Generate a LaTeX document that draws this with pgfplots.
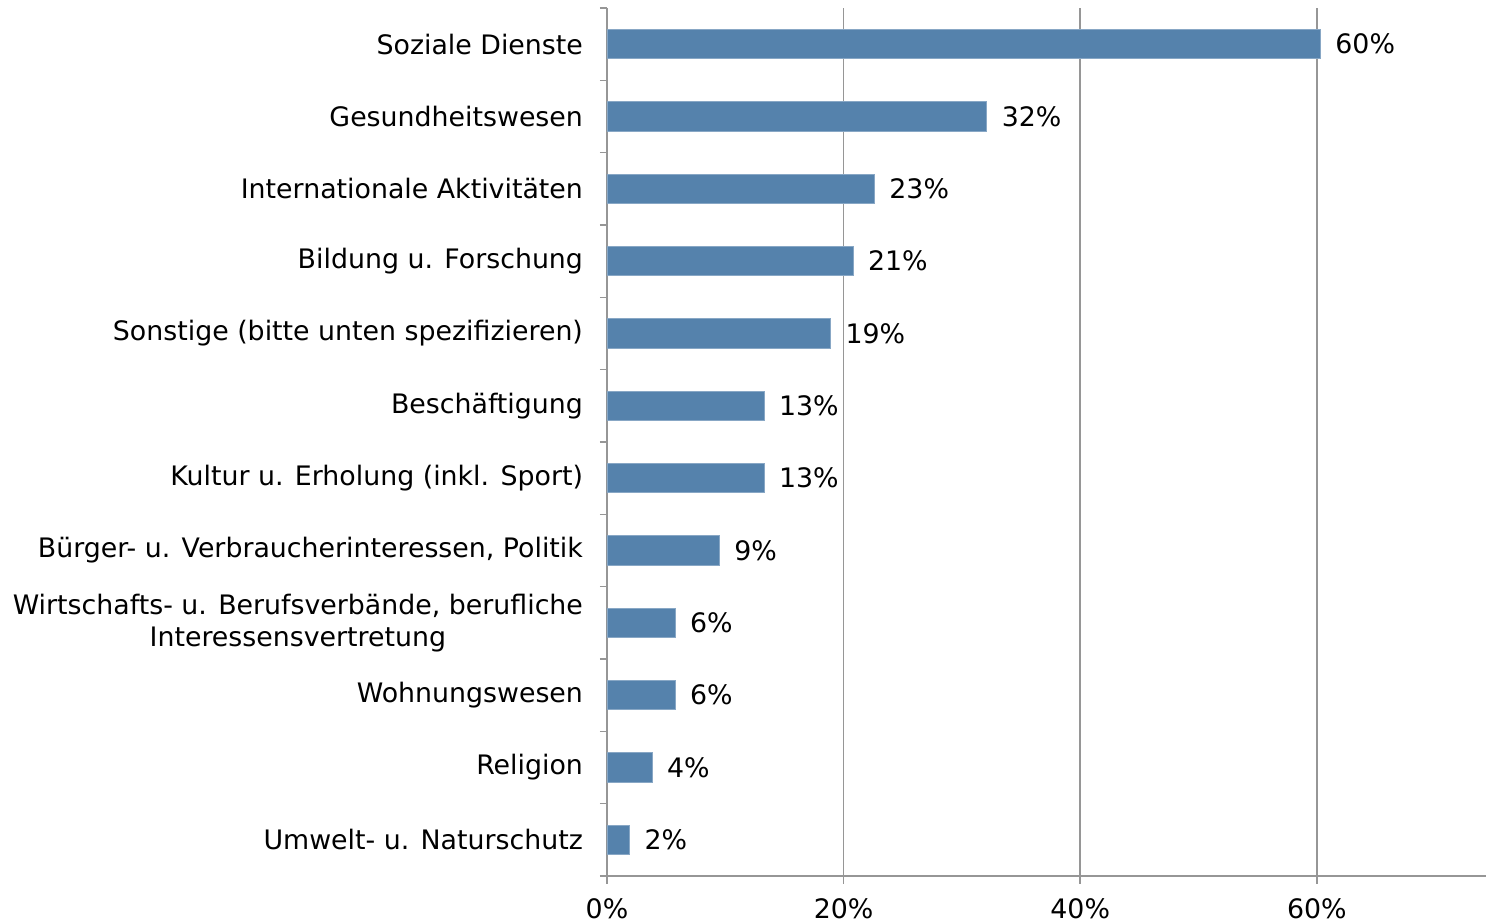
\documentclass[border=0pt]{standalone}
\usepackage{fontspec}
\setmainfont{DejaVu Sans}
\usepackage{pgfplots}
\usepackage{pgfplotstable}
\pgfplotsset{compat=1.18}
\definecolor{barblue}{HTML}{5582AC}
\definecolor{axgray}{HTML}{969696}
\pgfplotstableread{
y x lab
0 1.9 2
1 3.8 4
2 5.75 6
3 5.75 6
4 9.5 9
5 13.27 13
6 13.27 13
7 18.9 19
8 20.8 21
9 22.6 23
10 32.1 32
11 60.3 60
}\datatab
\begin{document}
\begin{tikzpicture}
\begin{axis}[
  name=ax,
  scale only axis,
  width=439.5pt, height=434pt,
  xmin=0, xmax=74.3,
  ymin=-0.5, ymax=11.5,
  axis lines*=left,
  axis line style={axgray, line width=0.8pt},
  /pgf/number format/assume math mode=true,
  font=\fontsize{13.4pt}{16pt}\selectfont,
  xtick={0,20,40,60},
  xticklabels={0\%,20\%,40\%,60\%},
  xmajorgrids,
  grid style={axgray, line width=0.8pt},
  tick align=outside,
  major tick length=4pt,
  tick style={axgray, line width=0.8pt},
  xticklabel style={yshift=-4pt},
  ytick={0,...,11},
  yticklabels={Umwelt- u. Naturschutz, Religion, Wohnungswesen, {Wirtschafts- u. Berufsverbände, berufliche\\Interessensvertretung}, {Bürger- u. Verbraucherinteressen, Politik}, {Kultur u. Erholung (inkl. Sport)}, Beschäftigung, {Sonstige (bitte unten spezifizieren)}, Bildung u. Forschung, Internationale Aktivitäten, Gesundheitswesen, Soziale Dienste},
  yticklabel style={align=center, xshift=-4.5pt},
  major y tick style={draw=none},
  minor ytick={-0.5,0.5,...,11.5},
  minor tick length=3.5pt,
  minor y tick style={axgray, line width=0.8pt},
  xbar,
  bar width=14.7pt,
  nodes near coords={\pgfmathprintnumber{\pgfplotspointmeta}\%},
  nodes near coords align={horizontal},
  every node near coord/.append style={anchor=west, xshift=4pt, text=black},
  point meta=explicit,
]
\addplot[fill=barblue, draw=barblue!70!white, line width=0.4pt] table[x=x, y=y, meta=lab] {\datatab};
\end{axis}
\pgfresetboundingbox
\path[use as bounding box] ([xshift=-303.5pt,yshift=-23.5pt]ax.south west) rectangle ([yshift=4pt]ax.north east);
\end{tikzpicture}
\end{document}
